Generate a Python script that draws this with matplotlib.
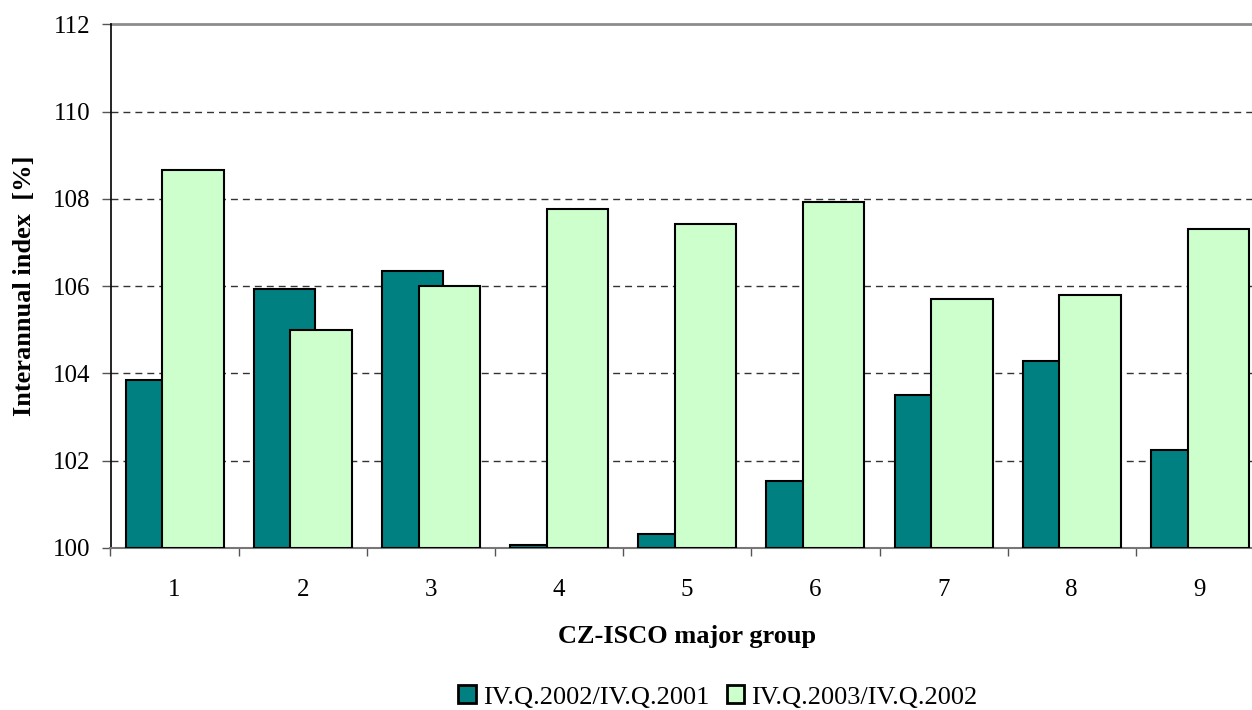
import matplotlib
matplotlib.use("Agg")
import matplotlib.pyplot as plt
import numpy as np

groups = ["1", "2", "3", "4", "5", "6", "7", "8", "9"]
series_names = ["IV.Q.2002/IV.Q.2001", "IV.Q.2003/IV.Q.2002"]
idx_2002 = [103.86, 105.94, 106.36, 100.08, 100.32, 101.54, 103.50, 104.29, 102.25]
idx_2003 = [108.67, 105.00, 106.00, 107.77, 107.43, 107.92, 105.70, 105.79, 107.32]
yticks = [100, 102, 104, 106, 108, 110, 112]

plt.rcParams['font.family'] = ['Liberation Serif', 'DejaVu Serif']

W, H = 1252, 710
fig = plt.figure(figsize=(W / 100, H / 100), dpi=100)
ax_left, ax_right, ax_top, ax_bottom = 110.5, 1264.0, 24.5, 548.0
ax = fig.add_axes([ax_left / W, 1 - ax_bottom / H, (ax_right - ax_left) / W, (ax_bottom - ax_top) / H])

x = np.arange(len(groups))
w = 0.478
ax.bar(x - 0.143, np.array(idx_2002) - 100, bottom=100, width=w, color='#008080',
       edgecolor='black', linewidth=1.5, label=series_names[0], zorder=3)
ax.bar(x + 0.143, np.array(idx_2003) - 100, bottom=100, width=w, color='#CCFFCC',
       edgecolor='black', linewidth=1.5, label=series_names[1], zorder=3)

ax.set_xlim(-0.5, len(groups) - 0.5)
ax.set_ylim(100, 112)
ax.set_yticks(yticks)
ax.set_yticklabels([str(t) for t in yticks], fontsize=18)
ax.set_xticks(x)
ax.set_xticklabels(groups, fontsize=18)
ax.tick_params(axis='x', which='major', length=0, pad=22)
ax.set_xticks(np.arange(-0.5, len(groups), 1.0), minor=True)
ax.tick_params(axis='x', which='minor', length=6, width=1, color='#555555', direction='out')
ax.tick_params(axis='y', length=6.5, width=1, color='#555555', direction='out', pad=8)

for t in yticks[1:-1]:
    ax.axhline(t, color='#333333', linestyle=(0, (5, 3.6)), linewidth=1, zorder=1)
ax.axhline(112, color='#8c8c8c', linewidth=2, zorder=1, clip_on=False)

ax.spines['top'].set_visible(False)
ax.spines['right'].set_visible(False)
ax.spines['left'].set_color('black')
ax.spines['left'].set_linewidth(1.2)
ax.spines['bottom'].set_color('#777777')
ax.spines['bottom'].set_linewidth(1.5)

ax.set_ylabel("Interannual index  [%]", fontsize=19, fontweight='bold')
ax.yaxis.set_label_coords((25 - ax_left) / (ax_right - ax_left), 0.5)
ax.yaxis.label.set_va('center')
ax.set_xlabel("CZ-ISCO major group", fontsize=19, fontweight='bold')
ax.xaxis.set_label_coords(0.5, -(637 - ax_bottom) / (ax_bottom - ax_top))
ax.xaxis.label.set_va('center')

leg = fig.legend(loc='center', bbox_to_anchor=(718 / W, 1 - 697 / H), ncol=2, frameon=False,
                 fontsize=19, handlelength=0.65, handleheight=0.65, handletextpad=0.27,
                 columnspacing=0.68, borderpad=0)
for p in leg.get_patches():
    p.set_linewidth(2)

fig.savefig("out.png", dpi=100)
